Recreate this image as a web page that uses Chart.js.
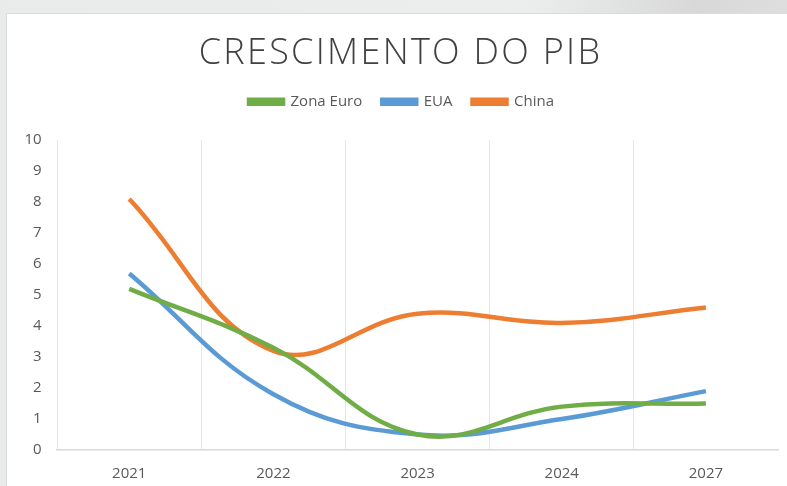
<!DOCTYPE html>
<html>
<head>
<meta charset="utf-8">
<script src="https://cdn.jsdelivr.net/npm/chart.js@4.4.1/dist/chart.umd.min.js"></script>
<style>
  html, body { margin: 0; padding: 0; }
  body {
    width: 787px; height: 486px; overflow: hidden;
    background: linear-gradient(100deg, #e9ebeb 0%, #eceeee 60%, #d8d8d8 80%, #e4e4e4 100%);
    position: relative;
  }
  #card {
    position: absolute; left: 6px; top: 13px; width: 781px; height: 473px;
    background: #fff; border-left: 1px solid #dcdcdc; border-top: 1px solid #dcdcdc;
    box-sizing: border-box;
  }
  canvas { display: block; }
</style>
</head>
<body>
<div id="card"><canvas id="myChart" width="780" height="472"></canvas></div>
<script>
const anos = ['2021', '2022', '2023', '2024', '2027'];
const zonaEuro = [5.2, 3.3, 0.5, 1.4, 1.5];
const eua = [5.7, 1.8, 0.5, 1.0, 1.9];
const china = [8.1, 3.2, 4.4, 4.1, 4.6];

// small tweaks: gap under the legend, title/legend nudged right, spaced title letters
const ajustes = {
    id: 'ajustes',
    beforeInit(chart) {
        const fit = chart.legend.fit;
        chart.legend.fit = function() {
            fit.bind(chart.legend)();
            this.height += 20;
        };
        const legendDraw = chart.legend.draw;
        chart.legend.draw = function() {
            chart.ctx.save();
            chart.ctx.translate(8, -1);
            legendDraw.apply(this, arguments);
            chart.ctx.restore();
        };
        const titleDraw = chart.titleBlock.draw;
        chart.titleBlock.draw = function() {
            chart.ctx.save();
            chart.ctx.translate(7, 0);
            chart.ctx.letterSpacing = '2.3px';
            titleDraw.apply(this, arguments);
            chart.ctx.restore();
        };
    }
};

const ctx = document.getElementById('myChart').getContext('2d');
new Chart(ctx, {
    type: 'line',
    data: {
        labels: anos,
        datasets: [
            { label: 'Zona Euro', data: zonaEuro, borderColor: '#70ad47', backgroundColor: '#70ad47' },
            { label: 'EUA', data: eua, borderColor: '#5b9bd5', backgroundColor: '#5b9bd5' },
            { label: 'China', data: china, borderColor: '#ed7d31', backgroundColor: '#ed7d31' }
        ]
    },
    options: {
        responsive: false,
        animation: false,
        layout: { padding: { left: 2, right: 9, bottom: -12 } },
        elements: {
            line: { borderWidth: 4.5, tension: 0.4, borderCapStyle: 'butt' },
            point: { radius: 0 }
        },
        plugins: {
            title: {
                display: true,
                text: 'CRESCIMENTO DO PIB',
                color: '#404040',
                font: { family: 'Open Sans', size: 36, weight: 300 },
                padding: { top: 18, bottom: 0 }
            },
            legend: {
                labels: {
                    color: '#595959',
                    font: { family: 'Open Sans', size: 15 },
                    boxWidth: 34,
                    boxHeight: 4,
                    padding: 20
                }
            },
            tooltip: { enabled: false }
        },
        scales: {
            x: {
                offset: true,
                grid: {
                    offset: true,
                    drawTicks: false,
                    // only the lines between years (and the left edge), none on the right edge
                    color: c => c.type === 'tick' ? '#e6e6e6' : 'rgba(0,0,0,0)',
                    lineWidth: c => c.type === 'tick' ? 1 : 0
                },
                border: { color: '#d9d9d9', width: 1.5 },
                ticks: { color: '#595959', font: { family: 'Open Sans', size: 15 }, padding: 15 }
            },
            y: {
                min: 0,
                max: 10,
                grid: { display: false, drawTicks: false },
                border: { display: false },
                ticks: { stepSize: 1, color: '#595959', font: { family: 'Open Sans', size: 15 }, padding: 15.5 }
            }
        }
    },
    plugins: [ajustes]
});
</script>
</body>
</html>
